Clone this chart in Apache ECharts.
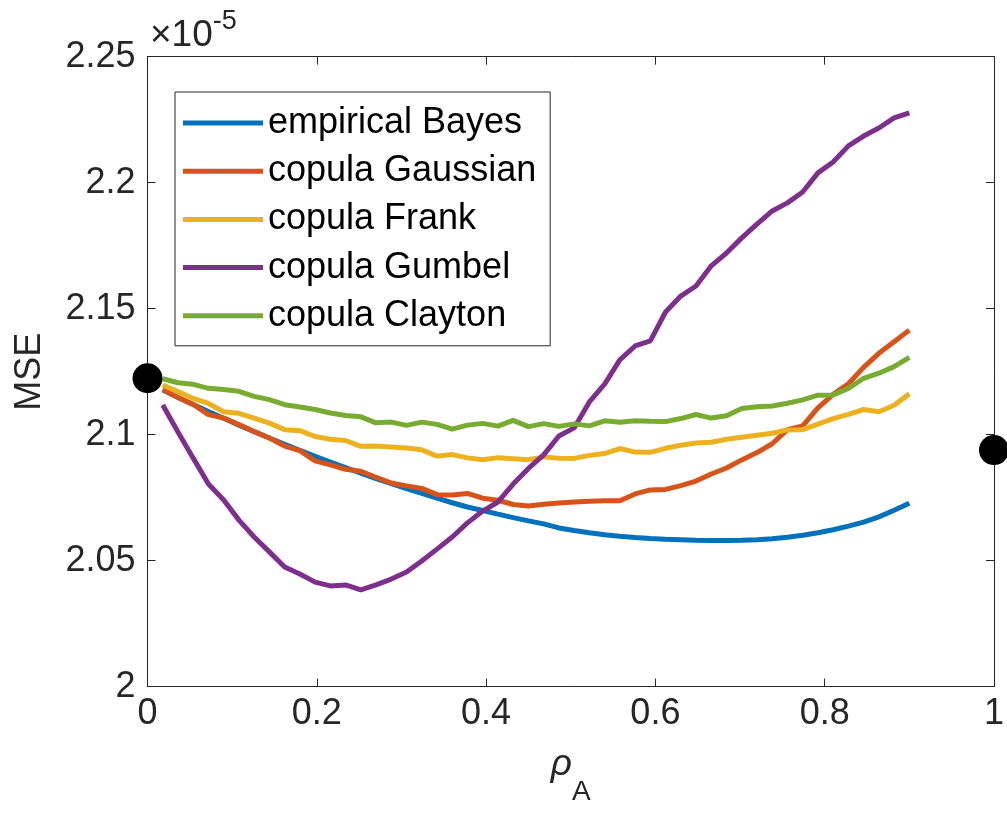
<!DOCTYPE html>
<html><head><meta charset="utf-8">
<script src="https://cdn.jsdelivr.net/npm/echarts@6/dist/echarts.min.js"></script>
<style>html,body{margin:0;padding:0;background:#fff}#c{width:1007px;height:816px}</style>
</head><body><div id="c"></div>
<script>
// x values (rho_A)
const rho = [0.018,0.036,0.054,0.072,0.09,0.108,0.126,0.144,0.162,0.18,
  0.198,0.216,0.234,0.252,0.27,0.288,0.306,0.324,0.342,0.36,
  0.378,0.396,0.414,0.432,0.45,0.468,0.486,0.504,0.522,0.54,
  0.558,0.576,0.594,0.612,0.63,0.648,0.666,0.684,0.702,0.72,
  0.738,0.756,0.774,0.792,0.81,0.828,0.846,0.864,0.882,0.9];
// MSE values (x 1e-5)
const empiricalBayes = [2.1177,2.1148,2.1120,2.1092,2.1065,2.1038,2.1012,2.0987,2.0962,2.0938,
  2.0914,2.0891,2.0869,2.0847,2.0826,2.0806,2.0786,2.0767,2.0748,2.0730,
  2.0713,2.0699,2.0685,2.0671,2.0658,2.0646,2.0630,2.0620,2.0611,2.0603,
  2.0597,2.0592,2.0588,2.0585,2.0583,2.0581,2.0580,2.0580,2.0581,2.0583,
  2.0587,2.0593,2.0601,2.0611,2.0623,2.0637,2.0653,2.0674,2.0700,2.0728];
const copulaGaussian = [2.1180,2.1148,2.1120,2.1080,2.1066,2.1040,2.1013,2.0987,2.0955,2.0937,
  2.0896,2.0880,2.0863,2.0855,2.0831,2.0808,2.0797,2.0787,2.0762,2.0761,
  2.0767,2.0748,2.0740,2.0723,2.0717,2.0724,2.0729,2.0733,2.0736,2.0738,
  2.0738,2.0765,2.0781,2.0783,2.0798,2.0816,2.0844,2.0868,2.0900,2.0929,
  2.0964,2.1020,2.1035,2.1106,2.1160,2.1202,2.1267,2.1323,2.1369,2.1415];
const copulaFrank = [2.1197,2.1171,2.1144,2.1124,2.1091,2.1085,2.1066,2.1046,2.1020,2.1016,
  2.0993,2.0982,2.0977,2.0954,2.0955,2.0951,2.0947,2.0940,2.0915,2.0921,
  2.0908,2.0901,2.0909,2.0905,2.0901,2.0912,2.0907,2.0906,2.0918,2.0925,
  2.0945,2.0931,2.0930,2.0946,2.0958,2.0967,2.0970,2.0982,2.0990,2.0998,
  2.1006,2.1019,2.1020,2.1042,2.1064,2.1081,2.1100,2.1091,2.1117,2.1162];
const copulaGumbel = [2.1118,2.1011,2.0907,2.0804,2.0741,2.0661,2.0594,2.0535,2.0475,2.0447,
  2.0415,2.0400,2.0404,2.0384,2.0404,2.0427,2.0455,2.0499,2.0546,2.0594,
  2.0650,2.0697,2.0733,2.0804,2.0866,2.0920,2.0995,2.1027,2.1130,2.1201,
  2.1297,2.1352,2.1372,2.1487,2.1550,2.1590,2.1670,2.1721,2.1781,2.1836,
  2.1888,2.1920,2.1963,2.2039,2.2082,2.2146,2.2185,2.2217,2.2257,2.2277];
const copulaClayton = [2.1222,2.1206,2.1200,2.1184,2.1179,2.1172,2.1152,2.1139,2.1119,2.1110,
  2.1100,2.1086,2.1076,2.1071,2.1047,2.1050,2.1037,2.1050,2.1041,2.1022,
  2.1038,2.1045,2.1034,2.1057,2.1032,2.1044,2.1033,2.1043,2.1035,2.1055,
  2.1049,2.1055,2.1053,2.1052,2.1064,2.1080,2.1066,2.1075,2.1104,2.1111,
  2.1114,2.1125,2.1138,2.1157,2.1158,2.1184,2.1224,2.1244,2.1270,2.1307];
// end-point markers
const markerX = [0, 1];
const markerY = [2.1224, 2.0939];
const seriesNames = ['empirical Bayes','copula Gaussian','copula Frank','copula Gumbel','copula Clayton'];
const seriesColors = ['#0072BD','#D95319','#EDB120','#7E2F8E','#77AC30'];
const seriesValues = [empiricalBayes, copulaGaussian, copulaFrank, copulaGumbel, copulaClayton];
const xTickLabels = ['0','0.2','0.4','0.6','0.8','1'];
const yTickLabels = ['2','2.05','2.1','2.15','2.2','2.25'];

const FONT = 'Liberation Sans';
const AX = '#262626';
const chart = echarts.init(document.getElementById('c'), null, {renderer:'canvas'});

const lineSeries = seriesNames.map((n, k) => ({
  name: n, type: 'line', showSymbol: false, symbol: 'none',
  data: rho.map((x, i) => [x, seriesValues[k][i]]),
  lineStyle: {color: seriesColors[k], width: 5}, itemStyle: {color: seriesColors[k]},
  animation: false, z: 3 + k
}));

function axisCommon(showLabels) {
  return {
    axisLine: {show: true, onZero: false, lineStyle: {color: AX, width: 1}},
    axisTick: {show: true, inside: true, length: 8, lineStyle: {color: AX, width: 1}},
    splitLine: {show: false},
    axisLabel: {show: showLabels}
  };
}

chart.setOption({
  backgroundColor: '#fff',
  animation: false,
  grid: {left: 147.5, right: 12, top: 56.7, bottom: 129.3, containLabel: false},
  xAxis: [
    Object.assign(axisCommon(true), {
      type: 'value', position: 'bottom', min: 0, max: 1, interval: 0.2,
      axisLabel: {show: true, fontSize: 36, fontFamily: FONT, color: AX, margin: 9,
        formatter: v => xTickLabels[Math.round(v / 0.2)]},
      name: '{r|ρ}{s|A}', nameLocation: 'middle', nameGap: 60,
      nameTextStyle: {fontFamily: FONT, color: AX, rich: {
        r: {fontSize: 37, fontStyle: 'italic', fontFamily: FONT, color: AX, lineHeight: 60, verticalAlign: 'top'},
        s: {fontSize: 28, fontFamily: FONT, color: AX, lineHeight: 60, verticalAlign: 'bottom'}
      }}
    }),
    Object.assign(axisCommon(false), {type: 'value', position: 'top', min: 0, max: 1, interval: 0.2})
  ],
  yAxis: [
    Object.assign(axisCommon(true), {
      type: 'value', position: 'left', min: 2, max: 2.25, interval: 0.05,
      axisLabel: {show: true, fontSize: 36, fontFamily: FONT, color: AX, margin: 12,
        formatter: v => yTickLabels[Math.round((v - 2) / 0.05)]},
      name: 'MSE', nameLocation: 'middle', nameGap: 99, nameRotate: 90,
      nameTextStyle: {fontSize: 36, fontFamily: FONT, color: AX}
    }),
    Object.assign(axisCommon(false), {type: 'value', position: 'right', min: 2, max: 2.25, interval: 0.05})
  ],
  legend: {
    orient: 'vertical', left: 175, top: 92, padding: [13, 14, 12, 8],
    itemGap: 12.2, itemWidth: 80, itemHeight: 5, icon: 'rect',
    textStyle: {fontSize: 36, fontFamily: FONT, color: '#000', padding: [0, 0, 0, 0]},
    borderColor: AX, borderWidth: 1, backgroundColor: '#fff',
    data: seriesNames
  },
  graphic: [{
    type: 'text', left: 150, top: 8, z: 10,
    style: {
      text: '{a|×10}{b|-5}',
      rich: {
        a: {fontSize: 37, fontFamily: FONT, fill: AX, lineHeight: 46, verticalAlign: 'bottom'},
        b: {fontSize: 27, fontFamily: FONT, fill: AX, lineHeight: 46, verticalAlign: 'top'}
      }
    }
  }],
  series: lineSeries.concat([{
    type: 'scatter', name: 'endpoints', clip: false, symbolSize: 30,
    data: markerX.map((x, i) => [x, markerY[i]]),
    itemStyle: {color: '#000', opacity: 1}, z: 20, silent: true
  }])
});
</script></body></html>
